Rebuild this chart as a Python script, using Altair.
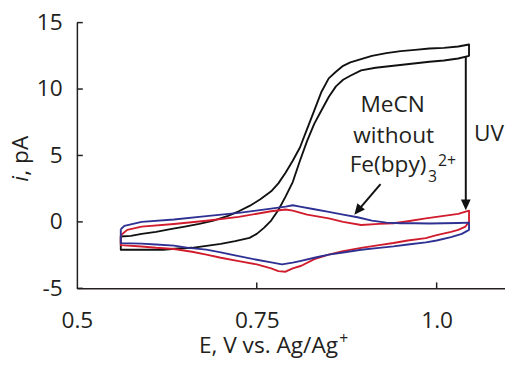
import altair as alt
import pandas as pd

FONT = "Open Sans"
INK = "#231f20"
BLACK = "#111111"
RED = "#d01c2c"
BLUE = "#2e3192"

# ---- black trace (MeCN with Fe(bpy)3 2+, UV on) ----
black_fwd_E = [0.561, 0.575, 0.59, 0.61, 0.63, 0.65, 0.67, 0.69, 0.71, 0.725, 0.74, 0.755, 0.77, 0.78, 0.79,
               0.80, 0.81, 0.82, 0.83, 0.84, 0.85, 0.86, 0.87, 0.88, 0.895, 0.91, 0.93, 0.95, 0.97, 0.99,
               1.01, 1.03, 1.045]
black_fwd_i = [-1.1, -1.05, -0.9, -0.75, -0.55, -0.35, -0.15, 0.1, 0.45, 0.8, 1.2, 1.7, 2.3, 2.9, 3.7,
               4.6, 5.6, 7.0, 8.4, 9.8, 10.8, 11.3, 11.75, 12.0, 12.25, 12.5, 12.7, 12.85, 12.95, 13.05,
               13.1, 13.2, 13.35]
black_rev_E = [1.045, 1.03, 1.01, 0.99, 0.965, 0.94, 0.915, 0.895, 0.88, 0.87, 0.86, 0.85, 0.84, 0.83, 0.82,
               0.81, 0.80, 0.79, 0.78, 0.77, 0.76, 0.75, 0.74, 0.72, 0.70, 0.68, 0.66, 0.64, 0.62, 0.60,
               0.58, 0.561]
black_rev_i = [12.5, 12.3, 12.15, 12.05, 11.9, 11.75, 11.6, 11.4, 11.0, 10.7, 10.2, 9.4, 8.4, 7.4, 6.1,
               4.6, 3.0, 1.9, 0.9, 0.1, -0.45, -0.9, -1.2, -1.45, -1.65, -1.8, -1.95, -2.0, -2.1, -2.1,
               -2.1, -2.1]

# ---- red trace ----
red_fwd_E = [0.561, 0.57, 0.59, 0.635, 0.68, 0.725, 0.77, 0.79, 0.80, 0.82, 0.85, 0.87, 0.895, 0.92, 0.94,
             0.96, 0.985, 1.01, 1.03, 1.045]
red_fwd_i = [-1.0, -0.6, -0.36, -0.16, 0.09, 0.38, 0.8, 0.93, 0.85, 0.55, 0.26, 0.0, -0.23, -0.15, -0.1,
             0.05, 0.26, 0.45, 0.6, 0.85]
red_rev_E = [1.045, 1.04, 1.03, 1.02, 1.00, 0.985, 0.96, 0.94, 0.92, 0.895, 0.87, 0.85, 0.83, 0.812, 0.80,
             0.79, 0.78, 0.77, 0.75, 0.725, 0.70, 0.68, 0.66, 0.635, 0.61, 0.59, 0.561]
red_rev_i = [0.0, -0.35, -0.6, -0.75, -1.0, -1.22, -1.4, -1.59, -1.75, -1.96, -2.2, -2.46, -2.8, -3.3, -3.5,
             -3.75, -3.7, -3.5, -3.2, -2.95, -2.7, -2.46, -2.25, -2.04, -1.95, -1.85, -1.75]

# ---- blue trace ----
blue_fwd_E = [0.561, 0.566, 0.59, 0.635, 0.68, 0.725, 0.77, 0.79, 0.80, 0.81, 0.83, 0.85, 0.87, 0.89, 0.91,
              0.93, 0.95, 0.97, 0.99, 1.01, 1.03, 1.045]
blue_fwd_i = [-0.55, -0.3, 0.0, 0.18, 0.43, 0.68, 1.0, 1.15, 1.25, 1.15, 0.95, 0.75, 0.55, 0.35, 0.1,
              -0.05, -0.1, -0.1, -0.12, -0.1, -0.08, -0.05]
blue_rev_E = [1.045, 1.035, 1.02, 1.00, 0.985, 0.96, 0.94, 0.92, 0.895, 0.87, 0.85, 0.83, 0.81, 0.80, 0.785,
              0.77, 0.75, 0.725, 0.70, 0.68, 0.655, 0.635, 0.61, 0.59, 0.561]
blue_rev_i = [-0.6, -0.9, -1.15, -1.4, -1.54, -1.7, -1.84, -1.95, -2.1, -2.3, -2.46, -2.7, -2.95, -3.07, -3.2,
              -3.05, -2.85, -2.58, -2.3, -2.09, -1.95, -1.79, -1.7, -1.64, -1.6]

x_ticks = [0.5, 0.75, 1.0]
y_ticks = [-5, 0, 5, 10, 15]


def loop(fE, fi, rE, ri):
    E = fE + rE + [fE[0]]
    I = fi + ri + [fi[0]]
    return pd.DataFrame({"E": E, "i": I, "k": list(range(len(E)))})


x_enc = alt.X(
    "E:Q",
    scale=alt.Scale(domain=[0.5, 1.095], nice=False, zero=False),
    axis=alt.Axis(values=x_ticks,
                  labelExpr="datum.value == 1 ? '1.0' : (datum.value == 0.5 ? '0.5' : '0.75')",
                  title=None, ticks=False, tickSize=0, grid=False,
                  domainColor=INK, domainWidth=1.5,
                  labelFont=FONT, labelFontSize=23, labelColor=INK, labelPadding=22,
                  labelFlush=False, labelOverlap=False, labelBound=False),
)
y_enc = alt.Y(
    "i:Q",
    scale=alt.Scale(domain=[-5, 15], nice=False, zero=False),
    axis=alt.Axis(values=y_ticks,
                  labelExpr="datum.value < 0 ? '-' + abs(datum.value) : '' + datum.value",
                  title=None, ticks=False, tickSize=0, grid=False,
                  domainColor=INK, domainWidth=1.5,
                  labelFont=FONT, labelFontSize=23, labelColor=INK, labelPadding=15,
                  labelFlush=False, labelOverlap=False, labelBound=False),
)


def trace(df, color):
    return alt.Chart(df).mark_line(color=color, strokeWidth=1.9, strokeJoin="round").encode(
        x=x_enc, y=y_enc, order="k:Q")


black = trace(loop(black_fwd_E, black_fwd_i, black_rev_E, black_rev_i), BLACK)
red = trace(loop(red_fwd_E, red_fwd_i, red_rev_E, red_rev_i), RED)
blue = trace(loop(blue_fwd_E, blue_fwd_i, blue_rev_E, blue_rev_i), BLUE)

# inward ticks
xt = alt.Chart(pd.DataFrame({"E": [0.75, 1.0]})).mark_rule(color=INK, strokeWidth=1.5).encode(
    x=x_enc, y=alt.value(270), y2=alt.value(264))
yt = alt.Chart(pd.DataFrame({"i": y_ticks})).mark_rule(color=INK, strokeWidth=1.5).encode(
    y=y_enc, x=alt.value(0), x2=alt.value(6))

# arrows
arrow_lines = pd.DataFrame({"E": [1.0405, 0.922], "i": [12.48, 2.85],
                            "E2": [1.0405, 0.8908], "i2": [1.32, 0.87]})
arrows = alt.Chart(arrow_lines).mark_rule(color=BLACK, strokeWidth=2).encode(
    x=x_enc, y=y_enc, x2="E2:Q", y2="i2:Q")
heads = alt.Chart(pd.DataFrame({"E": [1.0405, 0.8856], "i": [0.87, 0.54], "ang": [0, 39]})).mark_point(
    shape="M0,0L-0.45,-1L0.45,-1Z", size=484, filled=True, color=BLACK, opacity=1, strokeWidth=0
).encode(x=x_enc, y=y_enc, angle=alt.Angle("ang:Q", scale=None))

# annotations in data coordinates
ann_main = pd.DataFrame({
    "E": [0.9389, 0.9403, 0.9858, 1.052],
    "i": [8.28, 5.94, 3.72, 6.06],
    "t": ["MeCN", "without", "Fe(bpy)", "UV"],
    "a": ["center", "center", "right", "left"],
})
texts = []
for _, r in ann_main.iterrows():
    texts.append(alt.Chart(pd.DataFrame([r])).mark_text(
        font=FONT, fontSize=23, color=INK, align=r["a"], baseline="alphabetic"
    ).encode(x=x_enc, y=y_enc, text="t:N"))
ann_small = pd.DataFrame({"E": [0.988, 1.0018], "i": [3.0, 4.21], "t": ["3", "2+"]})
texts.append(alt.Chart(ann_small).mark_text(
    font=FONT, fontSize=16, color=INK, align="left", baseline="alphabetic"
).encode(x=x_enc, y=y_enc, text="t:N"))

# axis titles
xtitle = alt.Chart(pd.DataFrame({"t": ["E, V vs. Ag/Ag"]})).mark_text(
    font=FONT, fontSize=23, color=INK, align="right", baseline="alphabetic"
).encode(x=alt.value(265.3), y=alt.value(335.5), text="t:N")
xtitle_sup = alt.Chart(pd.DataFrame({"t": ["+"]})).mark_text(
    font=FONT, fontSize=16, color=INK, align="left", baseline="alphabetic"
).encode(x=alt.value(266.5), y=alt.value(327), text="t:N")
ytitle_i = alt.Chart(pd.DataFrame({"t": ["i"]})).mark_text(
    font=FONT, fontSize=23, fontStyle="italic", color=INK, align="left", baseline="alphabetic", angle=270
).encode(x=alt.value(-49.7), y=alt.value(161.7), text="t:N")
ytitle_rest = alt.Chart(pd.DataFrame({"t": [", pA"]})).mark_text(
    font=FONT, fontSize=23, color=INK, align="left", baseline="alphabetic", angle=270
).encode(x=alt.value(-49.7), y=alt.value(155.5), text="t:N")

chart = alt.layer(
    black, red, blue, xt, yt, arrows, heads, *texts, xtitle, xtitle_sup, ytitle_i, ytitle_rest
).properties(
    width=435, height=270,
    autosize=alt.AutoSizeParams(type="none"),
    padding={"left": 70, "top": 12, "right": 0, "bottom": 71},
).configure_view(stroke=None)

chart.save("out.html", embed_options={"renderer": "svg", "actions": False})
